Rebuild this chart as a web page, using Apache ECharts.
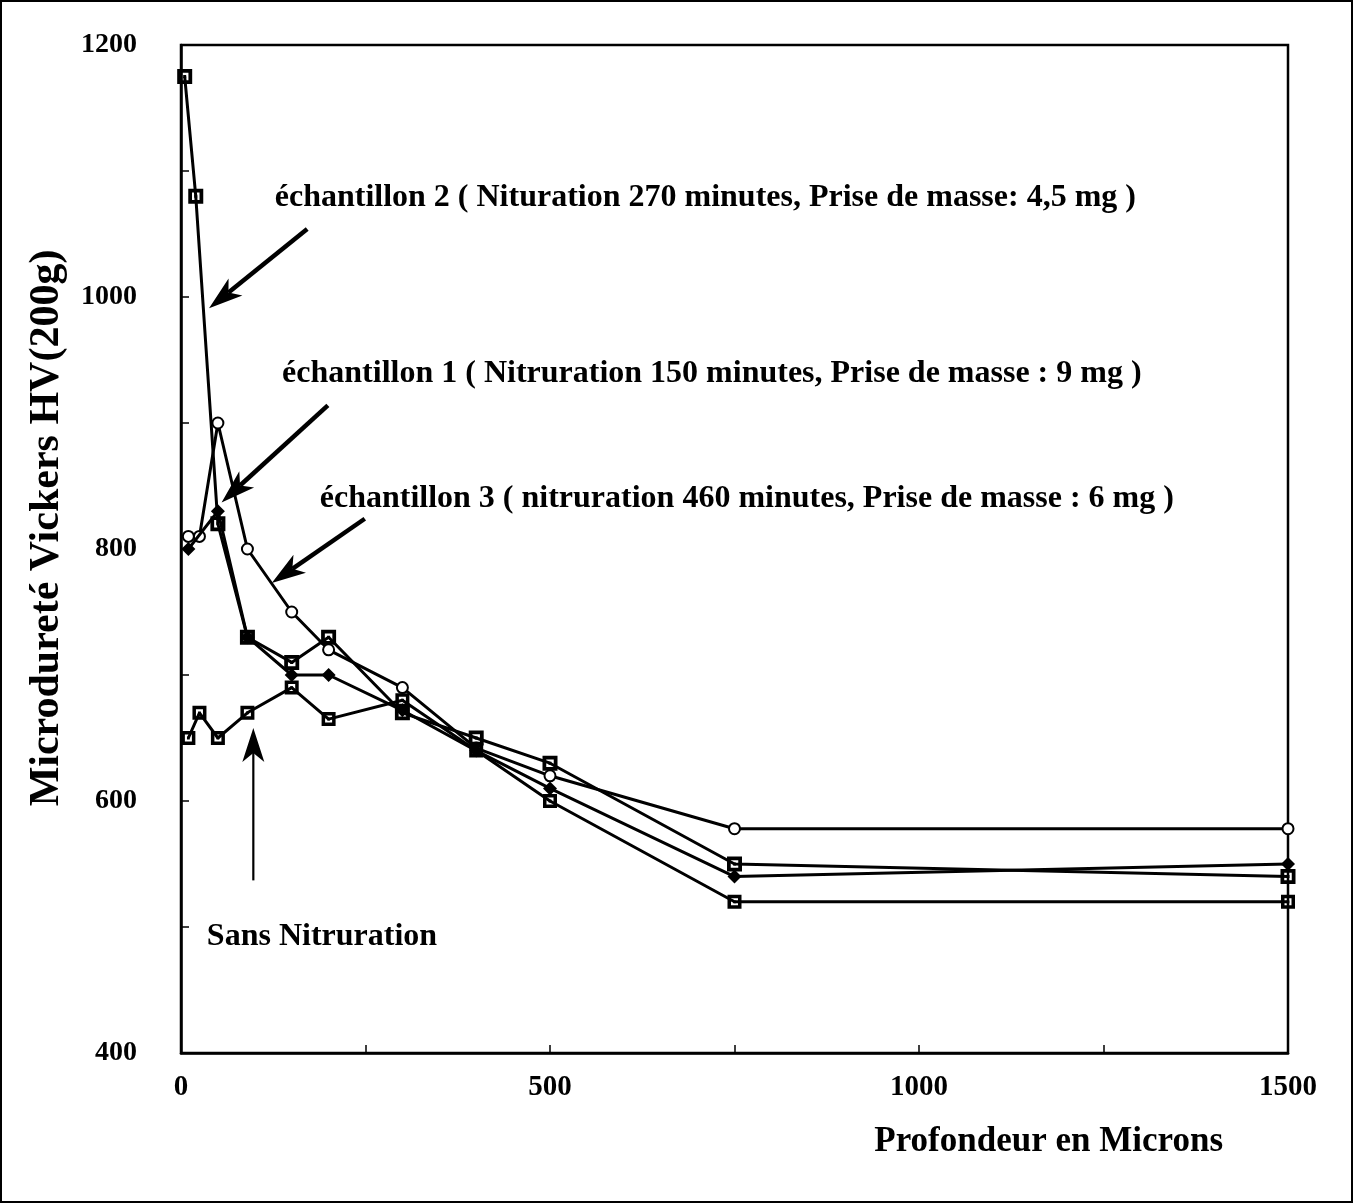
<!DOCTYPE html>
<html>
<head>
<meta charset="utf-8">
<script src="https://cdn.jsdelivr.net/npm/echarts@6/dist/echarts.min.js"></script>
<style>
  html, body { margin: 0; padding: 0; background: #fff; }
  #chart { width: 1354px; height: 1204px; }
</style>
</head>
<body>
<div id="chart"></div>
<script>
// ---- Data ----
const depthE2 = [5, 20, 50, 90, 150, 200, 300, 400, 500, 750, 1500];
const hvE2    = [1175, 1080, 820, 730, 710, 730, 670, 650, 630, 550, 540];

const depthE1 = [10, 50, 90, 150, 200, 300, 400, 500, 750, 1500];
const hvE1    = [800, 830, 730, 700, 700, 672, 640, 610, 540, 550];

const depthE3 = [10, 25, 50, 90, 150, 200, 300, 400, 500, 750, 1500];
const hvE3    = [810, 810, 900, 800, 750, 720, 690, 642, 620, 578, 578];

const depthSans = [10, 25, 50, 90, 150, 200, 300, 400, 500, 750, 1500];
const hvSans    = [650, 670, 650, 670, 690, 665, 680, 640, 600, 520, 520];

const xTickLabels = [0, 500, 1000, 1500];
const yTickLabels = [400, 600, 800, 1000, 1200];

const labelE2 = 'échantillon 2 ( Nituration 270 minutes, Prise de masse: 4,5 mg )';
const labelE1 = 'échantillon 1 ( Nitruration 150 minutes, Prise de masse : 9 mg )';
const labelE3 = 'échantillon 3 ( nitruration 460 minutes, Prise de masse : 6 mg )';
const labelSans = 'Sans Nitruration';
const xName = 'Profondeur en Microns';
const yName = 'Microdureté Vickers HV(200g)';

// annotations in data coordinates
const arrowsData = [
  { from: [171, 1054], to: [38, 991] },
  { from: [199, 914], to: [55, 837] },
  { from: [249, 824], to: [123, 773] },
  { from: [98, 537], to: [98, 658] }
];
const textsData = [
  { text: labelE2, at: [127, 1079] },
  { text: labelE1, at: [137, 939] },
  { text: labelE3, at: [188, 840] },
  { text: labelSans, at: [35, 492] }
];

const zip = (xs, ys) => xs.map((x, i) => [x, ys[i]]);
const FONT = "'Liberation Serif', 'Times New Roman', serif";

// square with a hole and a centre dot (nonzero fill)
const sqDot = 'path://M0,0 L12,0 L12,12 L0,12 Z M3,3 L3,9 L9,9 L9,3 Z M4.8,4.8 L7.2,4.8 L7.2,7.2 L4.8,7.2 Z';

const chart = echarts.init(document.getElementById('chart'), null, { renderer: 'canvas' });

const lineStyle = { color: '#000', width: 3 };

const option = {
  backgroundColor: '#fff',
  animation: false,
  grid: { left: 181, right: 66, top: 45, bottom: 151, show: true, borderColor: '#000', borderWidth: 2.5, containLabel: false },
  xAxis: {
    type: 'value', min: 0, max: 1500, interval: 250,
    axisLine: { lineStyle: { color: '#000', width: 2.5 } },
    axisTick: { inside: true, length: 8, lineStyle: { color: '#000', width: 1.5 } },
    splitLine: { show: false },
    axisLabel: {
      margin: 20, color: '#000', fontFamily: FONT, fontWeight: 'bold', fontSize: 29,
      formatter: v => xTickLabels.indexOf(v) >= 0 ? String(v) : ''
    },
    name: xName, nameLocation: 'end',
    nameTextStyle: { color: '#000', fontFamily: FONT, fontWeight: 'bold', fontSize: 35, align: 'right', verticalAlign: 'top', padding: [71, 80, 0, 0] }
  },
  yAxis: {
    type: 'value', min: 400, max: 1200, interval: 100,
    axisLine: { lineStyle: { color: '#000', width: 2.5 } },
    axisTick: { inside: true, length: 8, lineStyle: { color: '#000', width: 1.5 } },
    splitLine: { show: false },
    axisLabel: {
      margin: 44, color: '#000', fontFamily: FONT, fontWeight: 'bold', fontSize: 28,
      formatter: v => yTickLabels.indexOf(v) >= 0 ? String(v) : ''
    }
  },
  series: [
    { name: 'e3', type: 'line', data: zip(depthE3, hvE3), symbol: 'emptyCircle', symbolSize: 11,
      itemStyle: { color: '#000', borderWidth: 3 }, lineStyle, z: 3 },
    { name: 'e1', type: 'line', data: zip(depthE1, hvE1), symbol: 'diamond', symbolSize: 14,
      itemStyle: { color: '#000' }, lineStyle, z: 4 },
    { name: 'sans', type: 'line', data: zip(depthSans, hvSans), symbol: sqDot, symbolSize: 14,
      itemStyle: { color: '#000' }, lineStyle, z: 5 },
    { name: 'e2', type: 'line', data: zip(depthE2, hvE2), symbol: sqDot, symbolSize: 15,
      itemStyle: { color: '#000' }, lineStyle, z: 6 }
  ]
};
chart.setOption(option);

function arrowShapes(a) {
  const p0 = chart.convertToPixel({ gridIndex: 0 }, a.from);
  const p1 = chart.convertToPixel({ gridIndex: 0 }, a.to);
  const dx = p1[0] - p0[0], dy = p1[1] - p0[1];
  const len = Math.sqrt(dx * dx + dy * dy);
  const ux = dx / len, uy = dy / len;
  const nx = -uy, ny = ux;
  const H = 34, W = 11, notch = 9;
  const bx = p1[0] - ux * H, by = p1[1] - uy * H;
  const mx = p1[0] - ux * (H - notch), my = p1[1] - uy * (H - notch);
  return [
    { type: 'line', shape: { x1: p0[0], y1: p0[1], x2: mx, y2: my }, style: { stroke: '#000', lineWidth: a.from[0] === a.to[0] ? 2.2 : 4.5 }, z: 50 },
    { type: 'polygon', shape: { points: [[p1[0], p1[1]], [bx + nx * W, by + ny * W], [mx, my], [bx - nx * W, by - ny * W]] }, style: { fill: '#000' }, z: 50 }
  ];
}

const graphics = [
  { type: 'rect', shape: { x: 1, y: 1, width: 1351, height: 1201 }, style: { fill: 'none', stroke: '#000', lineWidth: 2 }, z: 100 },
  { type: 'text', x: 47, y: 528, rotation: Math.PI / 2, z: 60,
    style: { text: yName, fill: '#000', font: 'bold 42px ' + FONT, textAlign: 'center', textVerticalAlign: 'middle' } }
];
arrowsData.forEach(a => arrowShapes(a).forEach(g => graphics.push(g)));
textsData.forEach(t => {
  const p = chart.convertToPixel({ gridIndex: 0 }, t.at);
  graphics.push({
    type: 'text', x: p[0], y: p[1], z: 60,
    style: { text: t.text, fill: '#000', font: 'bold 32px ' + FONT, textAlign: 'left', textVerticalAlign: 'middle' }
  });
});
chart.setOption({ graphic: graphics });
</script>
</body>
</html>
